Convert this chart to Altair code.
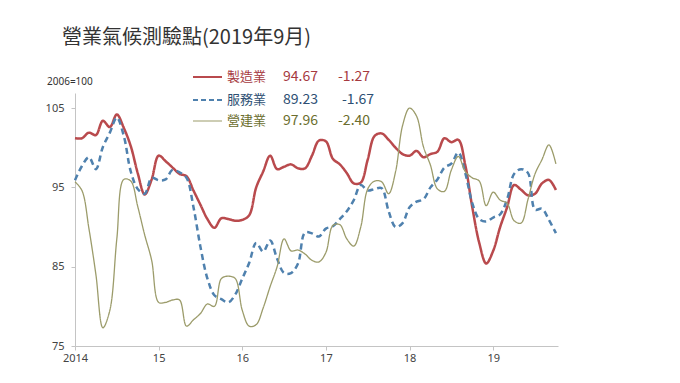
import altair as alt
import pandas as pd

months = pd.date_range("2014-01-01", periods=70, freq="MS").strftime("%Y-%m").tolist()

manufacturing = [101.2, 101.2, 101.9, 101.6, 103.4, 102.6, 104.2, 102.5, 100.2, 96.8,
                 94.1, 96.0, 99.0, 98.3, 97.5, 96.7, 96.4, 94.6, 92.8, 91.0,
                 89.9, 91.1, 91.0, 90.8, 90.9, 91.5, 95.0, 97.0, 99.0, 97.3,
                 97.6, 97.9, 97.4, 97.4, 99.0, 100.9, 100.8, 98.6, 97.9, 96.8,
                 95.5, 95.6, 98.5, 101.5, 101.8, 101.0, 100.0, 99.2, 99.0, 99.6,
                 98.8, 99.2, 99.5, 101.2, 100.7, 101.0, 97.8, 92.5, 88.0, 85.4,
                 87.0, 90.0, 92.5, 95.3, 94.7, 94.0, 94.2, 95.5, 95.94, 94.67]

services = [95.9, 97.7, 98.8, 97.3, 100.1, 101.9, 103.8, 101.5, 97.0, 94.8,
            94.2, 96.2, 95.9, 96.0, 97.2, 96.9, 96.2, 92.5, 87.5, 83.5,
            81.4, 80.9, 80.5, 81.5, 83.5, 85.5, 88.0, 86.9, 88.3, 86.0,
            84.2, 84.2, 85.4, 89.3, 89.2, 88.8, 89.8, 90.1, 91.0, 92.0,
            93.4, 95.3, 94.6, 94.8, 94.9, 92.0, 90.0, 90.5, 92.5, 93.2,
            93.5, 95.0, 96.0, 97.5, 98.0, 99.4, 96.8, 93.0, 91.0, 90.7,
            91.2, 91.6, 93.5, 96.7, 97.3, 96.8, 92.2, 92.3, 90.90, 89.23]

construction = [95.7, 94.6, 89.8, 84.0, 77.3, 79.5, 88.5, 96.0, 95.8, 92.6,
                89.0, 85.8, 80.5, 80.5, 80.8, 80.8, 77.5, 78.3, 79.1, 80.3,
                80.0, 83.5, 83.8, 83.5, 79.5, 77.5, 77.7, 79.8, 82.5, 85.0,
                88.5, 87.0, 87.1, 86.6, 85.8, 85.6, 86.8, 90.2, 90.3, 88.5,
                87.6, 90.0, 94.8, 95.8, 95.7, 94.2, 97.0, 102.8, 105.0, 104.0,
                100.1, 97.8, 94.8, 94.5, 97.2, 98.9, 97.0, 96.2, 95.8, 92.7,
                94.4, 93.4, 93.0, 90.8, 90.5, 93.5, 96.7, 98.5, 100.36, 97.96]

names = ["製造業", "服務業", "營建業"]
latest = ["94.67", "89.23", "97.96"]
changes = ["-1.27", "-1.67", "-2.40"]
line_colors = ["#b94a4d", "#4f81ae", "#9c9c6b"]
text_colors = ["#a63a3f", "#2d4f73", "#6b6e2e"]
line_widths = [2.5, 2.5, 1.3]
sample_widths = [2.0, 2.0, 1.2]
dashes = [[1, 0], [6, 4], [1, 0]]

tick_positions = [0, 12, 24, 36, 48, 60]
tick_labels = ["2014", "15", "16", "17", "18", "19"]
y_ticks = [75, 85, 95, 105]

title_text = "營業氣候測驗點(2019年9月)"
unit_text = "2006=100"

series_values = [manufacturing, services, construction]

label_expr = "''"
for p, l in zip(reversed(tick_positions), reversed(tick_labels)):
    label_expr = f"datum.value == {p} ? '{l}' : ({label_expr})"

x_enc = alt.X("idx:Q",
              scale=alt.Scale(domain=[0, 69.3], nice=False, zero=False),
              axis=alt.Axis(values=tick_positions, labelExpr=label_expr, grid=False,
                            title=None, domainColor="#c4c4c4", tickColor="#c4c4c4",
                            tickSize=4, labelPadding=2, labelFontSize=11,
                            labelColor="#444444", labelFont="Noto Sans",
                            labelFlush=False))
y_enc = alt.Y("v:Q",
              scale=alt.Scale(domain=[75, 106.9], nice=False, zero=False),
              axis=alt.Axis(values=y_ticks, grid=False, title=None,
                            domainColor="#c4c4c4", tickColor="#c4c4c4",
                            tickSize=4, labelPadding=7, labelFontSize=11,
                            labelColor="#444444", labelFont="Noto Sans"))

layers = []
for k in range(3):
    df = pd.DataFrame({"month": months, "idx": list(range(len(months))),
                       "v": series_values[k]})
    layers.append(
        alt.Chart(df).mark_line(interpolate="catmull-rom", color=line_colors[k],
                                strokeWidth=line_widths[k], strokeDash=dashes[k])
        .encode(x=x_enc, y=y_enc)
    )

# legend rows (sample line, name, latest value, change)
row_y = [-16, 7, 28]
one = pd.DataFrame({"a": [1]})
for k in range(3):
    layers.append(
        alt.Chart(one).mark_rule(color=line_colors[k], strokeWidth=sample_widths[k],
                                 strokeDash=[5, 3] if k == 1 else [1, 0])
        .encode(x=alt.value(118), x2=alt.value(147), y=alt.value(row_y[k]))
    )
    for txt, xx, fs in [(names[k], 152, 13), (latest[k], 208, 14),
                        (changes[k], 263 if k != 1 else 267, 14)]:
        layers.append(
            alt.Chart(one).mark_text(align="left", baseline="middle", fontSize=fs,
                                     font="Noto Sans CJK TC", color=text_colors[k])
            .encode(x=alt.value(xx), y=alt.value(row_y[k]), text=alt.value(txt))
        )

layers.append(
    alt.Chart(one).mark_text(align="left", baseline="middle", fontSize=10,
                             font="Noto Sans", color="#333333")
    .encode(x=alt.value(-28), y=alt.value(-11), text=alt.value(unit_text))
)
layers.append(
    alt.Chart(one).mark_text(align="left", baseline="middle", fontSize=20,
                             font="Noto Sans CJK TC", color="#333333")
    .encode(x=alt.value(-13), y=alt.value(-55), text=alt.value(title_text))
)

chart = alt.layer(*layers).properties(
    width=483, height=253,
    autosize=alt.AutoSizeParams(type="none"),
    padding={"left": 67, "top": 85, "right": 114, "bottom": 29},
    background="white",
).configure_view(strokeWidth=0)

chart.save("out.html", embed_options={"renderer": "svg", "actions": False})
